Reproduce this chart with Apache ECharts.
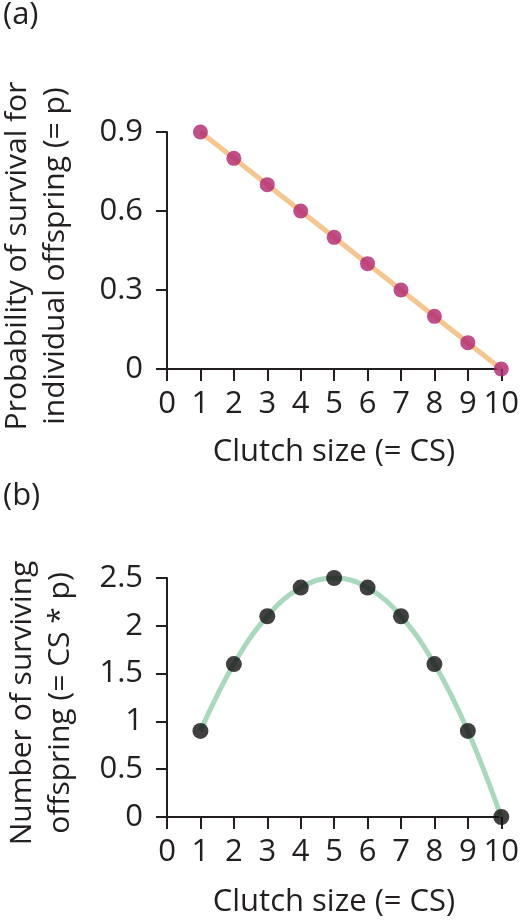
<!DOCTYPE html>
<html><head><meta charset="utf-8">
<script src="https://cdn.jsdelivr.net/npm/echarts@6/dist/echarts.min.js"></script>
<style>html,body{margin:0;padding:0;background:#fff}#c{width:522px;height:924px}</style>
</head><body><div id="c"></div>
<script>
const clutchSize = [1, 2, 3, 4, 5, 6, 7, 8, 9, 10];
const survivalP = [0.9, 0.8, 0.7, 0.6, 0.5, 0.4, 0.3, 0.2, 0.1, 0];
const survivingOffspring = [0.9, 1.6, 2.1, 2.4, 2.5, 2.4, 2.1, 1.6, 0.9, 0];
const xTicks = [0, 10, 1];
const yTicksA = [0, 0.9, 0.3];
const yTicksB = [0, 2.5, 0.5];

const FONT = '"Open Sans", "Noto Sans", sans-serif';
const TXT = '#231f20';
const FS = 31;
const chart = echarts.init(document.getElementById('c'), null, {renderer: 'canvas'});

function xAxis(gi) {
  return {
    type: 'value', gridIndex: gi, min: xTicks[0], max: xTicks[1], interval: xTicks[2],
    axisLine: {show: true, onZero: false, lineStyle: {color: TXT, width: 2}},
    axisTick: {show: true, length: 12, lineStyle: {color: TXT, width: 2}},
    splitLine: {show: false},
    axisLabel: {color: TXT, fontSize: FS, fontFamily: FONT, margin: 20, showMinLabel: true, showMaxLabel: true}
  };
}
function yAxis(gi, t) {
  return {
    type: 'value', gridIndex: gi, min: t[0], max: t[1], interval: t[2],
    axisLine: {show: true, lineStyle: {color: TXT, width: 2}},
    axisTick: {show: true, inside: false, length: 11, lineStyle: {color: TXT, width: 2}},
    splitLine: {show: false},
    axisLabel: {color: TXT, fontSize: FS, fontFamily: FONT, margin: 24}
  };
}
function pairs(ys) { return clutchSize.map((x, i) => [x, ys[i]]); }
function txt(s, x, y, rot, fs) {
  return {type: 'text', x: x, y: y, rotation: rot, style: {text: s, fontSize: fs, fontFamily: FONT, fill: TXT, align: 'center', verticalAlign: 'middle'}};
}

chart.setOption({
  animation: false,
  grid: [
    {left: 167, right: 19, top: 132, height: 237},
    {left: 167, right: 19, top: 578, height: 239}
  ],
  xAxis: [xAxis(0), xAxis(1)],
  yAxis: [yAxis(0, yTicksA), yAxis(1, yTicksB)],
  graphic: [
    {type: 'text', left: 3, top: 0, style: {text: '(a)', fontSize: FS, fontFamily: FONT, fill: TXT}},
    {type: 'text', left: 3, top: 481, style: {text: '(b)', fontSize: FS, fontFamily: FONT, fill: TXT}},
    txt('Clutch size (= CS)', 334, 452, 0, FS),
    txt('Clutch size (= CS)', 334, 902, 0, FS),
    txt('Probability of survival for', 17, 256, Math.PI / 2, 30),
    txt('individual offspring (= p)', 55, 256, Math.PI / 2, 30),
    txt('Number of surviving', 22, 703, Math.PI / 2, 30),
    txt('offspring (= CS * p)', 60, 703, Math.PI / 2, 30)
  ],
  series: [
    {type: 'line', xAxisIndex: 0, yAxisIndex: 0, data: pairs(survivalP), showSymbol: false,
     lineStyle: {color: '#f6c68e', width: 5}, z: 2, clip: false},
    {type: 'scatter', xAxisIndex: 0, yAxisIndex: 0, data: pairs(survivalP), symbolSize: 15,
     itemStyle: {color: '#b0246f'}, z: 3, clip: false},
    {type: 'line', xAxisIndex: 1, yAxisIndex: 1, data: pairs(survivingOffspring), showSymbol: false, smooth: 0.4,
     lineStyle: {color: '#a9d9bd', width: 5}, z: 2, clip: false},
    {type: 'scatter', xAxisIndex: 1, yAxisIndex: 1, data: pairs(survivingOffspring), symbolSize: 16,
     itemStyle: {color: '#111111'}, z: 3, clip: false}
  ]
});
</script></body></html>
